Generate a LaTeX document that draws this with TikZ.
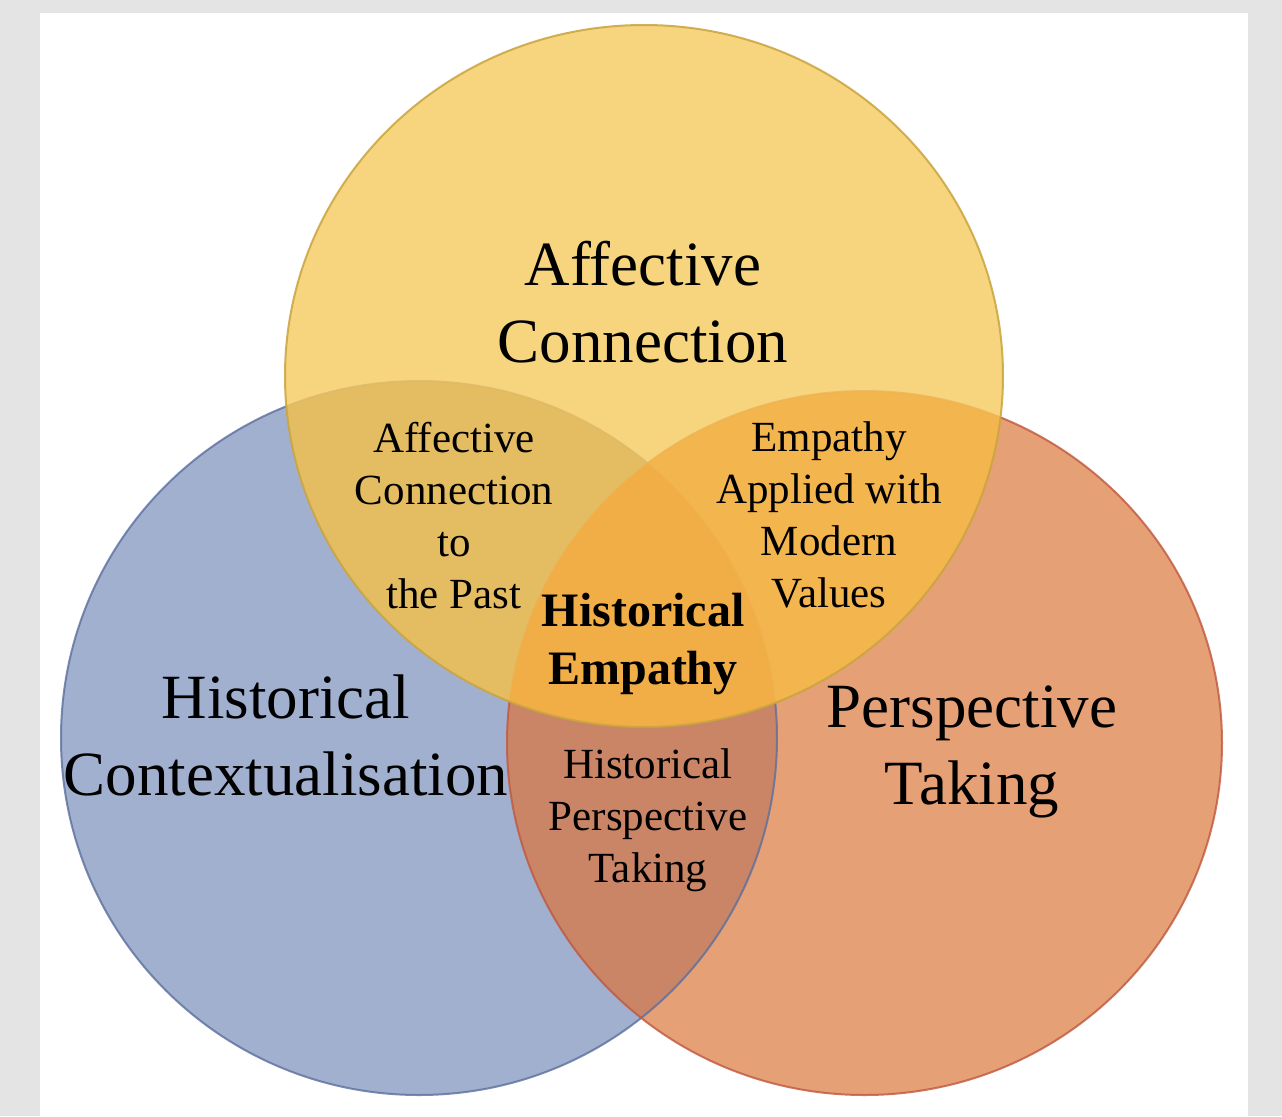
\documentclass[tikz,border=0pt]{standalone}
\usepackage{fontspec}
\setmainfont{Liberation Serif}
\definecolor{bgGrey}{HTML}{E4E4E4}
\definecolor{cY}{HTML}{F6CC62}
\definecolor{cB}{HTML}{A2B0CF}
\definecolor{cO}{HTML}{E6A075}
\definecolor{cYB}{HTML}{E4BA5F}
\definecolor{cYO}{HTML}{F3B24A}
\definecolor{cBO}{HTML}{C98566}
\definecolor{cC}{HTML}{F2AE46}
\definecolor{lY}{HTML}{C9A43E}
\definecolor{lB}{HTML}{5B6F9E}
\definecolor{lO}{HTML}{C0573F}
\tikzset{
  big/.style={align=center, font=\fontsize{31.5}{38.5}\selectfont, inner sep=0pt},
  small/.style={align=center, font=\fontsize{21.5}{26}\selectfont, inner sep=0pt},
  core/.style={align=center, font=\fontsize{24}{29}\selectfont\bfseries, inner sep=0pt},
  rim/.style={line width=1pt}
}
\begin{document}
\begin{tikzpicture}[x=0.5pt,y=-0.5pt]
\def\Ypath{(644,376) ellipse [x radius=359, y radius=351]}
\def\Bpath{(419,738) ellipse [x radius=358, y radius=357]}
\def\Opath{(864.5,743) ellipse [x radius=357.5, y radius=352]}
\fill[bgGrey] (0,0) rectangle (1282,1116);
\fill[white] (40,13) rectangle (1248,1116);
\useasboundingbox (0,0) rectangle (1282,1116);
% base circles
\fill[cB] \Bpath;
\fill[cO] \Opath;
\begin{scope}\clip \Bpath; \fill[cBO] \Opath; \end{scope}
\draw[rim, lB, opacity=0.8] \Bpath;
\draw[rim, lO, opacity=0.8] \Opath;
% yellow layer on top, letting the lines beneath show faintly
\begin{scope}[opacity=0.82]
  \fill[cY] \Ypath;
  \begin{scope}\clip \Ypath; \fill[cYB] \Bpath; \end{scope}
  \begin{scope}\clip \Ypath; \fill[cYO] \Opath; \end{scope}
  \begin{scope}\clip \Ypath; \clip \Bpath; \fill[cC] \Opath; \end{scope}
\end{scope}
\draw[rim, lY, opacity=0.85] \Ypath;
% labels
\node[big] (ac) at (643,302) {Affective\\Connection};
\node[big] (hc) at (286,735) {Historical\\Contextualisation};
\node[big] (pt) at (972,752) {Perspective\\Taking};
\node[small] (acp) at (454,516) {Affective\\Connection\\to\\the Past};
\node[small] (eam) at (829,515) {Empathy\\Applied with\\Modern\\Values};
\node[small] (hpt) at (648,820) {Historical\\Perspective\\Taking};
\node[core] (he) at (643,644) {Historical\\Empathy};
\end{tikzpicture}
\end{document}
